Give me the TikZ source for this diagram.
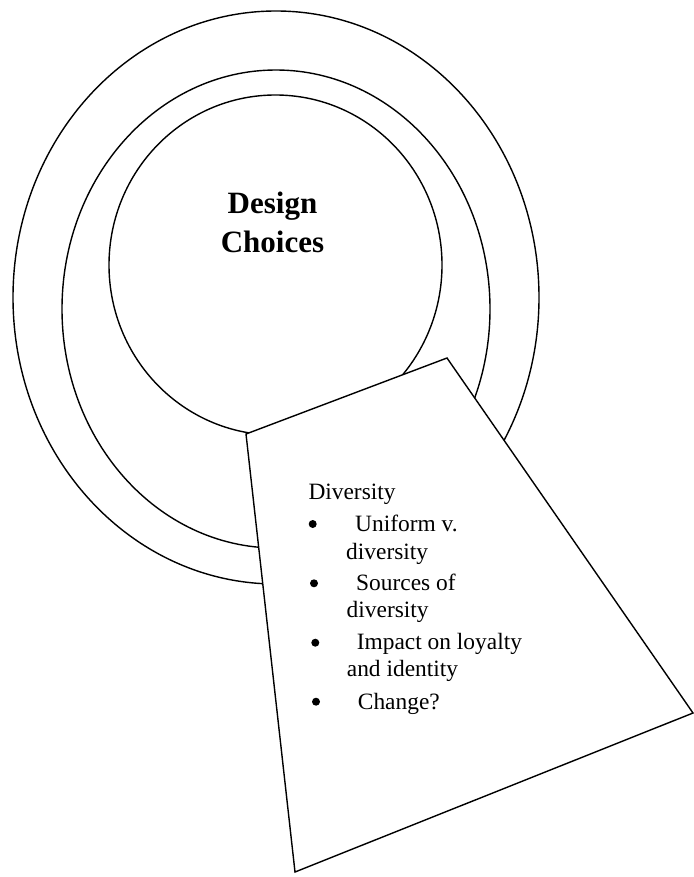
\documentclass[tikz,border=0pt]{standalone}
\usepackage{fontspec}
\setmainfont{Liberation Serif}
\begin{document}
\begin{tikzpicture}[x=1pt,y=-1pt,
  ring/.style={draw=black, line width=1.4pt},
  card/.style={draw=black, fill=white, line width=1.4pt, line join=miter},
  heading/.style={anchor=base, inner sep=0pt, font=\bfseries\fontsize{31}{38}\selectfont},
  item/.style={anchor=base west, inner sep=0pt, font=\fontsize{23.4}{28}\selectfont},
  dot/.style={circle, fill=black, inner sep=0pt, minimum size=8pt}]
\useasboundingbox (0,0) rectangle (693,877);

% three nested rings
\draw[ring] (276,297.5) ellipse [x radius=263, y radius=286.5];
\draw[ring] (276,309) ellipse [x radius=214, y radius=239];
\draw[ring] (275.5,265) ellipse [x radius=166.5, y radius=170];

\node[heading] (design) at (272.5,214) {Design};
\node[heading] (choices) at (272.5,252.7) {Choices};

% the card laid over the rings
\coordinate (c1) at (246,434);
\coordinate (c2) at (447,358);
\coordinate (c3) at (693,713);
\coordinate (c4) at (295,872);
\draw[card] (c1) -- (c2) -- (c3) -- (c4) -- cycle;

\node[item] (head) at (308.3,499) {Diversity};

\node[dot] (b1) at (312.7,524) {};
\node[item] (t1) at (355,531) {Uniform v.};
\node[item] (t1b) at (346,559) {diversity};

\node[dot] (b2) at (314,583.3) {};
\node[item] (t2) at (356,590) {Sources of};
\node[item] (t2b) at (346.5,617.7) {diversity};

\node[dot] (b3) at (315.3,642.7) {};
\node[item] (t3) at (356.7,649) {Impact on loyalty};
\node[item] (t3b) at (346.7,676.7) {and identity};

\node[dot] (b4) at (316,701.7) {};
\node[item] (t4) at (357.7,709) {Change?};
\end{tikzpicture}
\end{document}
